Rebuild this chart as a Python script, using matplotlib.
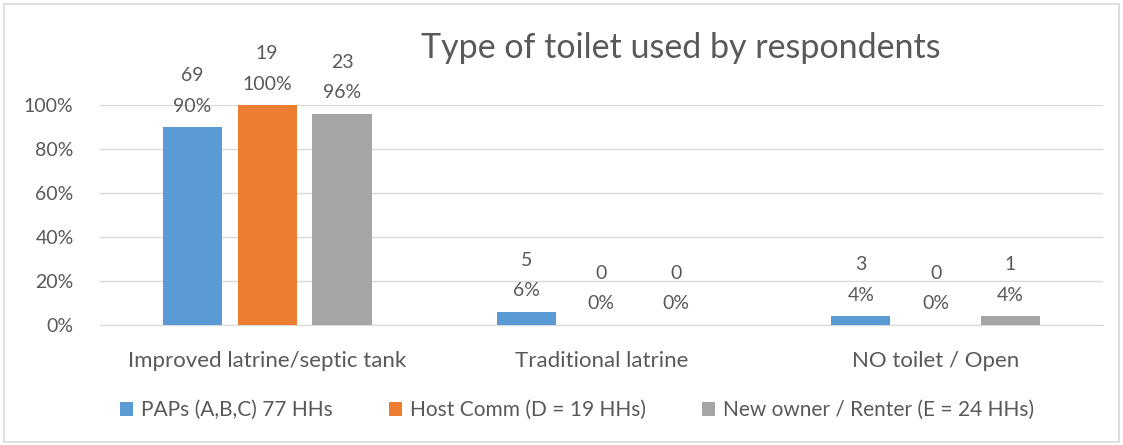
import matplotlib
matplotlib.use("Agg")
import matplotlib.pyplot as plt
import numpy as np
from matplotlib.patches import Rectangle

categories = ["Improved latrine/septic tank", "Traditional latrine", "NO toilet / Open"]
series_names = ["PAPs (A,B,C) 77 HHs", "Host Comm (D = 19 HHs)", "New owner / Renter (E = 24 HHs)"]
paps_pct = [0.90, 0.06, 0.04]
host_pct = [1.00, 0.00, 0.00]
new_pct = [0.96, 0.00, 0.04]
paps_n = [69, 5, 3]
host_n = [19, 0, 0]
new_n = [23, 0, 1]
yticks = [0, 0.2, 0.4, 0.6, 0.8, 1.0]
ytick_labels = ["0%", "20%", "40%", "60%", "80%", "100%"]
title = "Type of toilet used by respondents"

colors = ["#5B9BD5", "#ED7D31", "#A5A5A5"]
text_color = "#595959"
plt.rcParams['font.family'] = ['Lato', 'DejaVu Sans']

fig = plt.figure(figsize=(11.23, 4.45), dpi=100)
fig.patches.append(Rectangle((0.004, 0.006), 0.992, 0.986, transform=fig.transFigure,
                             fill=False, edgecolor="#D9D9D9", linewidth=1.2))
ax = fig.add_axes([0.089, 0.2697, 0.893, 0.4943])

x = np.arange(len(categories))
w = 0.177
off = 0.224
pcts = [paps_pct, host_pct, new_pct]
counts = [paps_n, host_n, new_n]
for i, (p, n, c, name) in enumerate(zip(pcts, counts, colors, series_names)):
    xs = x + (i - 1) * off
    ax.bar(xs, p, width=w, color=c, label=name, zorder=3)
    for xi, pi, ni in zip(xs, p, n):
        ax.annotate(f"{ni}\n{int(round(pi*100))}%", (xi, pi), xytext=(0, 9),
                    textcoords="offset points", ha="center", va="bottom",
                    fontsize=14, color=text_color, linespacing=1.95, annotation_clip=False)

ax.set_xlim(-0.5, 2.5)
ax.set_ylim(0, 1.0)
ax.set_yticks(yticks)
ax.set_yticklabels(ytick_labels)
ax.set_xticks(x)
ax.set_xticklabels(categories)
ax.tick_params(axis="both", length=0, labelsize=14, labelcolor=text_color)
ax.tick_params(axis="x", labelsize=16, pad=19)
ax.tick_params(axis="y", pad=19)
ax.grid(axis="y", color="#D9D9D9", linewidth=1, zorder=0)
for s in ["top", "right", "left"]:
    ax.spines[s].set_visible(False)
ax.spines["bottom"].set_color("#D9D9D9")

fig.text(0.606, 0.893, title, ha="center", va="center", fontsize=24.5, color=text_color)

leg = fig.legend(loc="center", bbox_to_anchor=(0.514, 0.078), ncol=3, frameon=False,
                 fontsize=15, handlelength=0.6, handleheight=0.6, handletextpad=0.4,
                 columnspacing=2.7, labelcolor=text_color)

fig.savefig("out.png", dpi=100)
